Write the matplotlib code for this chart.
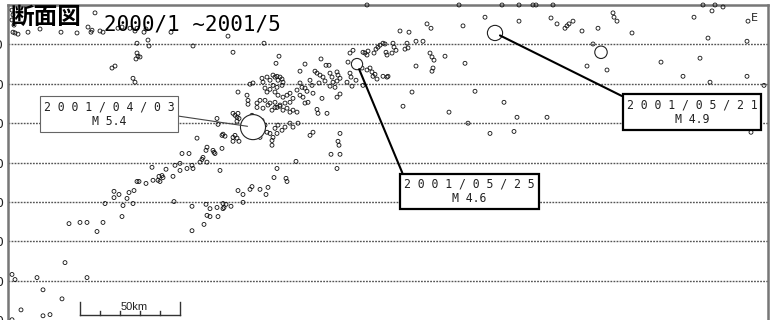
import numpy as np
import matplotlib.pyplot as plt

plt.rcParams['font.family'] = ['DejaVu Sans']

# hypocentres: distance along section (km), depth (km)
dist = [2.0, 2.5, 2.0, 3.0, 2.5, 3.5, 5.0, 10.0, 16.0, 26.5, 34.5, 40.0, 41.5, 42.0, 43.5, 46.0,
        47.5, 55.0, 57.0, 61.0, 63.5, 64.5, 68.0, 69.0, 81.5, 64.5, 70.0, 70.5, 64.5, 65.0, 66.0,
        64.0, 52.0, 53.5, 62.5, 63.5, 92.5, 110.0, 112.5, 115.0, 119.5, 121.0, 120.0,
        104.5, 105.0, 112.5, 113.5, 114.5, 115.0, 115.5, 114.5, 94.5, 107.0, 107.5, 108.5, 112.5,
        113.5, 114.5, 115.5, 112.5, 120.0, 87.0, 90.5, 99.5, 99.0, 102.5, 103.0, 103.5, 107.0,
        97.5, 97.0, 96.0, 99.5, 106.0, 92.0, 89.5, 92.5, 86.0, 86.0, 83.5, 82.5, 79.0, 75.5,
        77.0, 77.5, 75.0, 76.0, 72.0, 72.5, 69.0, 64.5, 65.5, 63.0, 60.5, 59.5, 55.5, 53.0,
        53.0, 57.5, 62.5, 48.5, 57.0, 83.0, 92.0, 99.0, 101.0, 104.5, 107.5, 108.0, 109.0,
        111.5, 107.5, 99.5, 101.0, 105.0, 115.0, 117.5, 121.0, 117.5,
        30.5, 36.0, 39.5, 44.5, 47.5, 92.0, 98.0, 28.5, 2.0, 3.5, 14.5, 39.5, 17.5, 27.0, 6.5,
        17.5, 21.0, 2.0,
        179.5, 225.5, 247.0, 238.5, 227.5, 209.5, 211.5, 196.0, 200.5, 128.0, 135.5, 134.0,
        156.5, 148.5, 159.0, 160.5, 146.0, 153.5, 171.0, 172.5, 170.0, 177.5, 178.5, 179.5,
        180.0, 183.0, 184.0, 185.0, 186.0, 187.5, 188.5, 192.5, 193.0, 194.0, 192.0, 189.0,
        189.5, 199.5, 200.0, 198.5, 204.0, 207.5, 211.0, 212.0, 213.0, 218.5, 204.0, 212.5,
        212.0, 228.5, 174.5, 177.0, 179.5, 181.0, 182.0, 183.5, 184.5, 182.5, 187.5, 189.5,
        190.0, 171.0, 171.5, 169.5, 172.0, 177.5, 174.0, 164.5, 165.0, 166.0, 164.5, 161.0,
        162.0, 162.5, 163.5, 161.0, 154.5, 156.0, 157.5, 158.5, 155.5, 151.0, 152.0, 148.5,
        149.5, 152.5, 146.0, 147.0, 144.5, 146.0, 147.5, 157.0, 164.5, 166.0, 202.0, 233.5,
        248.0, 197.5,
        127.0, 127.5, 129.5, 131.0, 132.5, 133.5, 134.5, 135.0, 136.0, 137.0, 137.5, 137.0,
        134.5, 132.5, 131.0, 129.5, 128.5, 133.5, 135.0, 137.5, 139.5, 141.0, 142.5, 141.0,
        138.5, 136.0, 133.5, 131.0, 128.5, 126.0, 124.5, 122.5,
        124.5, 127.5, 130.0, 132.0, 133.5, 134.5, 136.0, 137.5, 139.5, 141.0, 142.5, 144.5,
        145.0, 142.5, 141.0, 138.5, 137.0, 135.0, 133.5, 134.5, 132.5, 131.0, 129.5, 128.5,
        127.0, 125.0, 123.5, 122.0, 132.0, 132.0, 126.0, 148.5, 150.0, 154.5, 155.0, 159.5,
        151.0, 152.5, 166.0, 165.0, 165.5, 161.5, 166.0, 164.5, 144.0, 134.5, 133.0, 139.0,
        139.5, 130.0, 129.0, 126.0, 122.0, 220.5, 230.0, 241.0,
        255.5, 262.5, 264.0, 272.5, 347.5, 353.5, 357.5, 352.0, 255.5, 271.5, 274.5, 278.5,
        279.5, 280.5, 282.5, 287.0, 295.0, 302.5, 303.0, 304.5, 312.0, 343.0, 370.0, 350.0,
        369.5, 292.5, 289.5, 299.5, 326.5, 346.0, 337.5, 351.0, 369.5, 378.0, 254.5, 269.5,
        253.0, 371.5]
depth = [1.3, 2.5, 3.8, 5.1, 6.9, 7.1, 7.4, 6.9, 6.1, 6.9, 7.1, 5.6, 6.9, 6.4, 2.0, 6.6,
         6.9, 5.9, 5.6, 5.9, 6.6, 5.9, 6.9, 6.1, 6.9, 9.7, 8.9, 10.4, 12.2, 13.0, 13.2,
         13.7, 16.0, 15.5, 18.6, 19.6, 10.4, 7.9, 12.0, 22.1, 22.9, 20.1, 24.2,
         28.8, 30.3, 27.5, 28.0, 28.5, 27.5, 28.8, 29.5, 33.8, 33.1, 32.8, 33.3, 33.6,
         33.1, 33.8, 34.6, 34.6, 25.2, 37.7, 37.7, 36.1, 36.9, 36.9, 37.4, 37.7, 36.4,
         38.7, 39.2, 39.9, 39.9, 42.0, 40.7, 41.5, 41.5, 40.2, 42.0, 40.7, 43.5, 41.7, 43.5,
         43.3, 43.8, 44.5, 44.8, 41.2, 44.5, 45.3, 44.8, 44.8, 47.1, 47.6, 49.1, 48.1, 47.3,
         48.9, 50.9, 50.4, 50.4, 53.7, 49.9, 51.1, 50.6, 51.7, 51.4, 50.4, 51.4, 50.6,
         51.1, 51.7, 53.4, 53.7, 53.7, 47.1, 48.1, 46.8, 50.1,
         55.5, 55.2, 55.2, 57.5, 55.2, 57.3, 55.7, 65.4, 68.4, 69.7, 69.2, 69.2, 72.3, 74.6, 77.4,
         78.9, 78.6, 79.9,
         0.0, 0.0, 0.0, 3.1, 5.3, 4.8, 5.9, 6.6, 6.9, 9.7, 13.0, 14.8,
         13.7, 15.0, 15.3, 15.3, 16.8, 16.8, 12.2, 11.5, 14.5, 12.0, 12.2, 12.7,
         11.7, 12.2, 11.2, 10.7, 10.2, 9.7, 9.9, 9.7, 10.7, 11.5, 12.2, 12.0,
         12.7, 9.7, 10.9, 11.2, 9.2, 9.2, 12.2, 13.2, 14.0, 13.0, 15.5, 16.0,
         16.8, 14.8, 15.8, 16.0, 16.5, 16.0, 17.0, 17.6, 18.8, 18.1, 18.1, 18.3,
         18.1, 17.3, 18.3, 19.6, 20.6, 20.4, 19.1, 17.0, 17.8, 18.6, 19.3, 17.3,
         18.3, 19.6, 20.9, 20.6, 17.3, 17.8, 18.3, 19.3, 19.8, 19.1, 20.4, 21.1,
         21.9, 22.4, 19.8, 20.9, 21.6, 22.9, 23.4, 23.7, 23.4, 22.6, 22.1, 21.9,
         24.7, 25.7,
         18.6, 19.6, 18.3, 19.1, 17.8, 18.3, 18.1, 19.1, 18.3, 18.8, 19.6, 20.4,
         20.9, 20.4, 21.4, 22.1, 21.1, 22.1, 22.9, 23.4, 22.9, 22.4, 23.7, 24.7,
         24.9, 25.7, 26.0, 24.9, 24.2, 24.2, 24.9, 19.8,
         26.0, 26.2, 25.4, 26.7, 24.7, 26.0, 25.4, 26.7, 26.2, 27.2, 26.7, 27.2,
         30.0, 31.0, 30.0, 31.0, 31.8, 30.5, 31.3, 32.6, 33.6, 32.6, 32.3, 30.5,
         29.3, 29.8, 28.5, 28.0, 34.4, 35.6, 33.6, 24.9, 24.7, 26.5, 27.5, 27.5,
         33.1, 32.3, 32.6, 34.6, 35.6, 37.9, 37.9, 41.5, 39.7, 41.5, 43.8, 44.0,
         44.8, 46.3, 48.1, 46.8, 46.1, 27.2, 30.0, 32.6,
         0.0, 0.0, 0.0, 0.0, 0.0, 0.0, 0.5, 1.5, 4.1, 3.3, 4.8, 5.9,
         5.3, 4.8, 4.1, 6.6, 5.9, 2.0, 3.1, 4.1, 7.1, 3.1, 4.1, 8.4,
         9.2, 9.9, 15.5, 16.5, 14.5, 13.5, 18.1, 19.6, 18.1, 20.4, 28.5, 28.5,
         32.1, 32.3]

# larger events
big_dist = [122.5, 174.5, 243.5, 296.5]
big_depth = [31.0, 15.0, 7.1, 12.0]
big_mag = [5.4, 4.6, 4.9, 4.7]

# labelled events: label, box centre (km, km), corner the leader leaves from
labels = ['2 0 0 1 / 0 4 / 0 3\nM 5.4', '2 0 0 1 / 0 5 / 2 5\nM 4.6', '2 0 0 1 / 0 5 / 2 1\nM 4.9']
label_event = [0, 1, 2]
box_x = [50.5, 230.8, 342.0]
box_y = [27.7, 47.3, 27.2]
box_rel = [(1.0, 0.45), (0.0, 1.0), (0.0, 1.0)]

depth_ticks = [10, 20, 30, 40, 50, 60, 70, 80]
scale_ticks = [36, 46, 56, 66, 76, 86]

fig = plt.figure(figsize=(7.72, 3.2), dpi=100)
ax = fig.add_axes([8 / 772, -8 / 320, 760 / 772, 323 / 320])
ax.set_xlim(0, 380)
ax.set_ylim(82, 0)

for d in depth_ticks[:-1]:
    ax.axhline(d, color='#555555', lw=1.0, ls=(0, (1.3, 0.9)), zorder=1)

ax.scatter(dist, depth, s=8, facecolors='none', edgecolors='#111111',
           linewidths=0.6, zorder=3, clip_on=False)
sizes = [(np.exp(m - 4.0) * 3.0) ** 2 * 2.2 for m in big_mag]
ax.scatter(big_dist, big_depth, s=sizes, facecolors='white', edgecolors='#222222',
           linewidths=0.8, zorder=4)

for i, lab in enumerate(labels):
    k = label_event[i]
    thin = (i == 0)
    ax.annotate(lab, xy=(big_dist[k], big_depth[k]), xytext=(box_x[i], box_y[i]),
                textcoords='data', ha='center', va='center', fontsize=8.3,
                family='DejaVu Sans Mono', color='#222222', linespacing=1.15, zorder=6,
                bbox=dict(boxstyle='square,pad=0.35', fc='white',
                          ec='#666666' if thin else 'black', lw=0.8 if thin else 1.6),
                arrowprops=dict(arrowstyle='-', color='#444444' if thin else 'black',
                                lw=0.8 if thin else 1.5, relpos=box_rel[i],
                                shrinkA=0, shrinkB=4))

# scale bar
ax.plot([scale_ticks[0], scale_ticks[-1]], [78.7, 78.7], color='#333333', lw=1.0)
for i, t in enumerate(scale_ticks):
    top = 75.5 if i in (0, len(scale_ticks) - 1) else 77.8
    ax.plot([t, t], [78.7, top], color='#333333', lw=1.0)
ax.text(63, 77.5, '50km', ha='center', va='baseline', fontsize=8,
        family=['Liberation Sans', 'DejaVu Sans'], color='#222222')

ax.set_yticks(depth_ticks)
ax.set_yticklabels([str(d) for d in depth_ticks], fontsize=9, color='#222222')
ax.tick_params(axis='y', length=0, pad=3)
ax.set_xticks([])
for side in ['left', 'top', 'right']:
    ax.spines[side].set_color('#777777')
    ax.spines[side].set_linewidth(1.8)
ax.spines['bottom'].set_visible(False)

fig.text(11 / 772, 1 - 5 / 320, '断面図', fontsize=17, fontweight='bold', va='top', ha='left',
         family=['Noto Sans CJK JP', 'DejaVu Sans'], color='black', zorder=10)
fig.text(104 / 772, 1 - 30 / 320, '2000/1 ~2001/5', fontsize=15, va='baseline', ha='left',
         family=['DejaVu Sans Mono'], color='black', zorder=10)
ax.text(373, 3.2, 'E', fontsize=8, ha='center', va='center', color='#222222')

fig.savefig('out.png', dpi=100)
